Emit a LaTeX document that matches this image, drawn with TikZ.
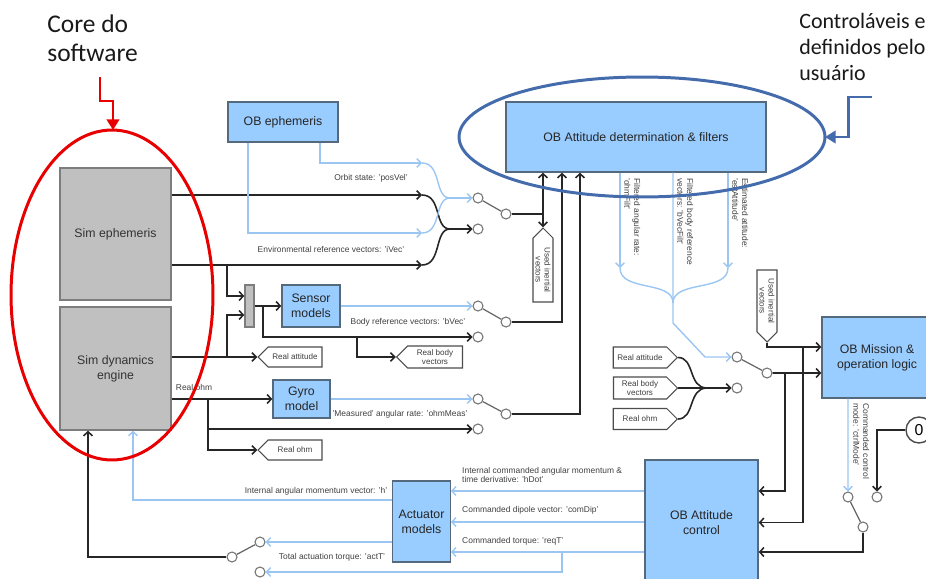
\documentclass[tikz,border=0pt]{standalone}
\usepackage{fontspec}
\setmainfont{Liberation Sans}
\newfontfamily\notefont{Carlito}
\usetikzlibrary{arrows.meta, shapes.symbols, positioning}

\definecolor{boxblue}{RGB}{153,204,255}
\definecolor{boxedge}{RGB}{85,105,125}
\definecolor{simgray}{RGB}{192,192,192}
\definecolor{simedge}{RGB}{125,125,125}
\definecolor{sigblue}{RGB}{155,198,242}
\definecolor{ringblue}{RGB}{68,108,172}
\definecolor{corered}{RGB}{232,0,0}

\begin{document}
\begin{tikzpicture}[x=0.02cm, y=-0.02cm,
    >={Straight Barb[length=2.4pt,width=5pt]},
    obbox/.style={draw=boxedge, fill=boxblue, line width=0.7pt, align=center,
      text=black!85, font=\fontsize{7}{8.4}\selectfont},
    simbox/.style={draw=simedge, fill=simgray, line width=0.7pt, align=center,
      text=black!80, font=\fontsize{7}{8.4}\selectfont},
    sigtag/.style={signal, draw=black!70, fill=white, line width=0.6pt, align=center,
      inner sep=0.5pt, minimum height=0.4cm, signal pointer angle=90,
      text=black!75, font=\fontsize{4.6}{5.2}\selectfont},
    sw/.style={circle, draw=black!55, fill=white, line width=0.6pt,
      minimum size=0.2cm, inner sep=0pt},
    lever/.style={draw=black!60, line width=0.7pt},
    wire/.style={draw=black!85, line width=0.9pt},
    sig/.style={draw=sigblue, line width=0.8pt},
    lbl/.style={inner sep=0.5pt, text=black!75, font=\fontsize{4.8}{5.6}\selectfont}
  ]
  \useasboundingbox (0,0) rectangle (926,578);
  \clip (0,0) rectangle (926,578);

  % simulation core
  \node[simbox, minimum width=2.22cm, minimum height=2.64cm] (simeph) at (115.5,234) {Sim ephemeris};
  \node[simbox, minimum width=2.22cm, minimum height=2.46cm] (simdyn) at (115.5,368.5) {Sim dynamics\\engine};
  \node[simbox, minimum width=0.18cm, minimum height=0.84cm, inner sep=0pt] (xform) at (249.5,306) {};

  % onboard and model blocks
  \node[obbox, minimum width=2.2cm, minimum height=0.8cm] (obeph) at (283,122) {OB ephemeris};
  \node[obbox, minimum width=5.2cm, minimum height=1.4cm] (obdet) at (636,137) {OB Attitude determination \& filters};
  \node[obbox, minimum width=1.16cm, minimum height=0.84cm] (sensor) at (311,306) {Sensor\\models};
  \node[obbox, minimum width=1.14cm, minimum height=0.76cm] (gyro) at (301.5,399) {Gyro\\model};
  \node[obbox, minimum width=1.1cm, minimum height=1.62cm] (act) at (421.5,521.5) {Actuator\\models};
  \node[obbox, minimum width=2.26cm, minimum height=2.5cm] (obctl) at (701.5,522.5) {OB Attitude\\control};
  \node[obbox, minimum width=2.2cm, minimum height=1.62cm] (obmis) at (877,357.5) {OB Mission \&\\operation logic};
  \node[circle, draw=black!70, line width=0.8pt, minimum size=0.52cm, inner sep=0pt,
    font=\fontsize{9}{10}\selectfont] (zero) at (919,430) {0};

  % signal tags
  \node[sigtag, signal to=west, minimum width=1.28cm] (ratt1) at (295,357) {Real attitude};
  \node[sigtag, signal to=west, minimum width=1.32cm, minimum height=0.44cm] (rbody1) at (435,357) {Real body\\vectors};
  \node[sigtag, signal to=west, minimum width=1.28cm] (rohm1) at (295,450) {Real ohm};
  \node[sigtag, signal to=west, rotate=-90, minimum width=1.48cm] (uiv1) at (543,270) {Used inertial\\vectors};
  \node[sigtag, signal to=east, rotate=-90, minimum width=1.44cm] (uiv2) at (767,301) {Used inertial\\vectors};
  \node[sigtag, signal to=east, minimum width=1.28cm, minimum height=0.42cm] (ratt2) at (640,357.5) {Real attitude};
  \node[sigtag, signal to=east, minimum width=1.28cm, minimum height=0.44cm] (rbody2) at (640,388) {Real body\\vectors};
  \node[sigtag, signal to=east, minimum width=1.28cm, minimum height=0.42cm] (rohm2) at (640,419) {Real ohm};

  % switches: two contacts (a, b) and a pivot (p)
  \foreach \i/\ax/\ay/\bx/\by/\px/\py in {1/478/198/478/229/506/214, 2/478/306/478/337/506/322,
      3/478/399/478/429/506/414, 4/737/357/737/388/767/373, 5/848/497/877/497/863/527,
      6/260/542/260/572/232/557}{
    \node[sw] (s\i a) at (\ax,\ay) {};
    \node[sw] (s\i b) at (\bx,\by) {};
    \node[sw] (s\i p) at (\px,\py) {};
    \draw[lever] (s\i p) -- (s\i a);
  }

  % bus points and corners
  \coordinate (bk1) at (422,195);
  \coordinate (bk2) at (422,265);
  \coordinate (bkm) at (450,229);
  \coordinate (bl1) at (422,163);
  \coordinate (bl2) at (422,233);
  \coordinate (blm) at (450,198);
  \coordinate (ja) at (227,265);
  \coordinate (jb) at (227,357);
  \coordinate (jc) at (263,306);
  \coordinate (jd) at (357,337);
  \coordinate (je) at (208,399);
  \coordinate (jf) at (208,429);
  \coordinate (j2) at (543,214);
  \coordinate (k2) at (562,322);
  \coordinate (k3) at (580,414);
  \coordinate (fa) at (620,268);
  \coordinate (fb) at (673,323);
  \coordinate (fc) at (728,268);
  \coordinate (fm) at (673,303);
  \coordinate (rm) at (707,388);
  \coordinate (m1) at (803,347);
  \coordinate (m2) at (785,373);
  \coordinate (yh) at (0,491);
  \coordinate (yd) at (0,522);
  \coordinate (yt) at (0,552);
  \coordinate (ya) at (0,500);
  \coordinate (yb) at (0,542);
  \coordinate (tq) at (562,552);

  % Sim ephemeris outputs
  \draw[wire,->] (simeph.east |- bk1) -- (bk1);
  \draw[wire,->] (simeph.east |- bk2) -- (bk2);
  \draw[wire] (bk1) .. controls (442,195) and (434,229) .. (bkm);
  \draw[wire] (bk2) .. controls (442,265) and (434,229) .. (bkm);
  \draw[wire,->] (bkm) -- (s1b);

  % OB ephemeris outputs
  \draw[sig,->] ([xshift=0.74cm]obeph.south) |- (bl1);
  \draw[sig,->] ([xshift=-0.7cm]obeph.south) |- (bl2);
  \draw[sig] (bl1) .. controls (442,163) and (434,198) .. (blm);
  \draw[sig] (bl2) .. controls (442,233) and (434,198) .. (blm);
  \draw[sig,->] (blm) -- (s1a);

  % into the sensor models
  \draw[wire,->] (ja) |- ([yshift=0.2cm]xform.west);
  \draw[wire,->] (jb) |- ([yshift=-0.18cm]xform.west);
  \draw[wire,->] (xform.east) -- (sensor.west);
  \draw[wire,->] (jc) |- (s2b);
  \draw[wire,->] (jd) |- (rbody1.west);
  \draw[sig,->] (sensor.east) -- (s2a);

  % Sim dynamics outputs
  \draw[wire,->] (simdyn.east |- ratt1.west) -- (ratt1.west);
  \draw[wire,->] (simdyn.east |- gyro.west) -- (gyro.west);
  \draw[wire,->] (je) |- (s3b);
  \draw[wire,->] (jf) |- (rohm1.west);
  \draw[sig,->] (gyro.east) -- (s3a);

  % switches into attitude determination
  \draw[wire] (s1p) -- (j2);
  \draw[wire,->] (j2) -- (j2 |- obdet.south);
  \draw[wire,->] (j2) -- (uiv1.west);
  \draw[wire,->] (s2p) -- (k2) -- (k2 |- obdet.south);
  \draw[wire,->] (s3p) -- (k3) -- (k3 |- obdet.south);

  % attitude determination outputs
  \draw[sig,->] (fa |- obdet.south) -- (fa);
  \draw[sig,->] (fc |- obdet.south) -- (fc);
  \draw[sig] (fa) .. controls (620,292) and (673,280) .. (fm);
  \draw[sig] (fc) .. controls (728,292) and (673,280) .. (fm);
  \draw[sig,->] (fm |- obdet.south) -- (fb) -- (705,357) -- (s4a);

  % real signals into switch 4
  \draw[wire] (ratt2.east) .. controls (695,357.5) and (688,388) .. (rm);
  \draw[wire] (rohm2.east) .. controls (695,419) and (688,388) .. (rm);
  \draw[wire] (rbody2.east) -- (rm);
  \draw[wire,->] (rm) -- (s4b);

  % into mission logic and attitude control
  \draw[wire,->] (uiv2.east) |- ([yshift=0.21cm]obmis.west);
  \draw[wire,->] (s4p) -- ([yshift=-0.31cm]obmis.west);
  \draw[wire,->] (m1) |- (obctl.east);
  \draw[wire,->] (m2) |- (obctl.east |- yh);
  \draw[sig,->] ([xshift=-0.58cm]obmis.south) -- (s5a);
  \draw[wire,->] (zero.west) -| (s5b);
  \draw[wire,->] (s5p) |- (obctl.east |- yt);

  % attitude control to actuators
  \draw[sig,->] (obctl.west |- yh) -- (act.east |- yh);
  \draw[sig,->] (obctl.west |- yd) -- (act.east |- yd);
  \draw[sig,->] (obctl.west |- yt) -- (act.east |- yt);
  \draw[sig,->] (tq) |- (s6b);

  % actuators back to dynamics
  \draw[sig,->] (act.west |- ya) -| ([xshift=0.35cm]simdyn.south);
  \draw[sig,->] (act.west |- yb) -- (s6a);
  \draw[wire,->] (s6p) -| ([xshift=-0.55cm]simdyn.south);

  % signal labels
  \node[lbl] (lorb) at (371,178) {Orbit state: 'posVel'};
  \node[lbl] (lenv) at (331,249) {Environmental reference vectors: 'iVec'};
  \node[lbl] (lbvec) at (408,322) {Body reference vectors: 'bVec'};
  \node[lbl] (lmeas) at (400,414) {'Measured' angular rate: 'ohmMeas'};
  \node[lbl] (lohm) at (194,387) {Real ohm};
  \node[lbl] (lh) at (316,491) {Internal angular momentum vector: 'h'};
  \node[lbl] (lact) at (332,557) {Total actuation torque: 'actT'};
  \node[lbl, anchor=west, align=left] (lhdot) at (461,475) {Internal commanded angular momentum \&\\time derivative: 'hDot'};
  \node[lbl, anchor=west] (ldip) at (461,510) {Commanded dipole vector: 'comDip'};
  \node[lbl, anchor=west] (lreq) at (461,541) {Commanded torque: 'reqT'};
  \node[lbl, rotate=-90, anchor=south west, align=left] (lwf) at (623,177) {Filtered angular rate:\\'ohmFilt'};
  \node[lbl, rotate=-90, anchor=south west, align=left] (lbf) at (676,177) {Filtered body reference\\vectors: 'bVecFilt'};
  \node[lbl, rotate=-90, anchor=south west, align=left] (lest) at (731,177) {Estimated attitude:\\'estAttitude'};
  \node[lbl, rotate=-90, anchor=south west, align=left] (lmode) at (852,402) {Commanded control\\mode: 'ctrlMode'};

  % annotations
  \node[anchor=north west, inner sep=0pt, align=left, text=black!90,
    font=\notefont\fontsize{14.5}{17}\selectfont] (core) at (47,14) {Core do\\software};
  \node[anchor=north west, inner sep=0pt, align=left, text=black!90,
    font=\notefont\fontsize{12.5}{14.8}\selectfont] (user) at (799,13) {Controláveis e\\definidos pelo\\usuário};
  \draw[corered, line width=1.7pt] (112,295) ellipse [x radius=2.02cm, y radius=3.3cm];
  \draw[ringblue, line width=1.7pt] (642,137) ellipse [x radius=3.66cm, y radius=1.2cm];
  \coordinate (ra) at (100,77);
  \coordinate (rb) at (113,130);
  \draw[corered, line width=1.7pt, -{Triangle[length=6pt,width=7pt]}] (ra) -- (100,101) -- (113,101) -- (rb);
  \coordinate (ba) at (872,97);
  \coordinate (bb) at (825,137);
  \draw[ringblue, line width=1.7pt, -{Triangle[length=6pt,width=7pt]}] (ba) -- (848,97) -- (848,137) -- (bb);
\end{tikzpicture}
\end{document}
